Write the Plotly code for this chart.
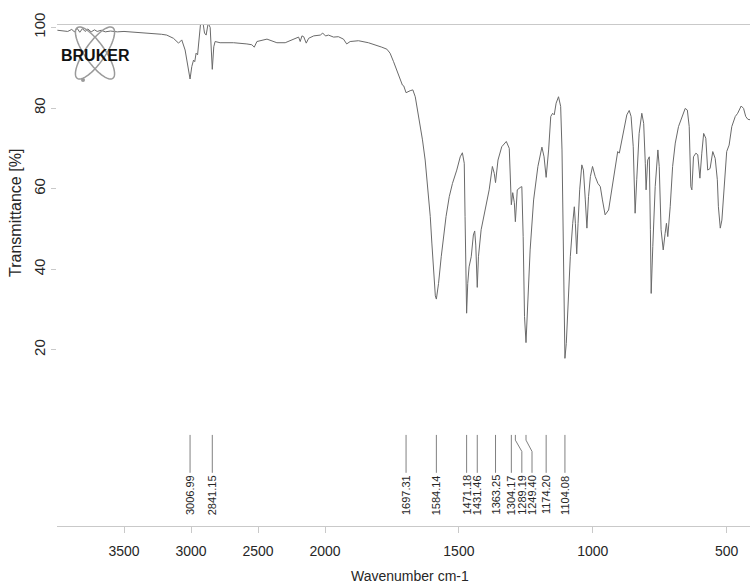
import numpy as np
import plotly.graph_objects as go

# ---- FT-IR spectrum (wavenumber in cm-1, transmittance in %) ----
wavenumber = [
    3997, 3960, 3920, 3890, 3870, 3850, 3830, 3810, 3790, 3770, 3745, 3720, 3700,
    3670, 3640, 3600, 3550, 3500, 3420, 3350, 3280, 3220, 3181, 3131, 3093, 3069,
    3044, 3024, 3006.99, 2994, 2981, 2972, 2962, 2951, 2939, 2927, 2912, 2899, 2887,
    2872, 2857, 2847, 2841.15, 2830, 2820, 2783, 2682, 2583, 2546, 2528, 2508, 2433,
    2359, 2297, 2234, 2197, 2185, 2172, 2159, 2140, 2122, 2084, 2035, 2017, 1997,
    1987, 1968, 1950, 1931, 1919, 1906, 1875, 1838, 1813, 1788, 1769, 1757, 1744,
    1732, 1719, 1711, 1706, 1697.31, 1682, 1672, 1663, 1654, 1645, 1636, 1626, 1616,
    1607, 1601, 1594, 1588, 1584.14, 1576, 1566, 1558, 1548, 1536, 1524, 1508, 1495,
    1487, 1480, 1477, 1471.18, 1467, 1462, 1454, 1446, 1441, 1437, 1431.46, 1427,
    1417, 1402, 1387, 1375, 1368, 1363.25, 1354, 1340, 1323, 1312, 1307, 1304.17,
    1299, 1293, 1289.19, 1282, 1271, 1265, 1260, 1255, 1249.40, 1245, 1234, 1221,
    1205, 1190, 1182, 1174.20, 1165, 1157, 1150, 1144, 1137, 1128, 1120, 1115, 1111,
    1104.08, 1099, 1093, 1084, 1075, 1069, 1065, 1060, 1055, 1049, 1041, 1035, 1028,
    1022, 1016, 1009, 1001, 991, 981, 972, 964, 954, 941, 929, 916, 907, 901, 885,
    873, 864, 857, 849, 842, 836, 827, 817, 810, 804, 801, 795, 789, 785, 782, 776,
    767, 757, 752, 745, 737, 730, 725, 720, 711, 702, 692, 680, 665, 655, 647, 640,
    634, 630, 624, 615, 608, 600, 593, 586, 578, 571, 562, 552, 543, 535, 531, 524,
    518, 509, 500, 491, 481, 468, 459, 446, 437, 429, 421, 405,
]
transmittance = [
    99.3, 99.2, 99.0, 99.5, 98.9, 99.8, 98.8, 99.7, 99.0, 99.6, 98.9, 99.4, 99.0,
    99.3, 98.9, 99.1, 98.9, 99.0, 98.8, 98.7, 98.6, 98.3, 98.1, 97.3, 96.1, 96.9,
    94.4, 90.3, 87.2, 90.3, 91.9, 91.5, 93.6, 93.2, 96.9, 101.5, 101.5, 98.6, 98.1,
    101.0, 100.0, 94.4, 89.6, 95.2, 96.5, 96.2, 96.2, 95.9, 95.7, 95.1, 96.5, 97.1,
    96.2, 96.2, 97.1, 97.6, 96.5, 97.9, 97.7, 96.1, 97.3, 97.9, 98.1, 98.6, 97.9,
    98.1, 97.6, 97.7, 97.1, 95.9, 96.5, 96.7, 96.2, 95.7, 95.1, 94.6, 93.6, 91.5,
    89.2, 87.0, 85.7, 85.5, 83.8, 84.3, 84.5, 82.8, 79.5, 76.2, 72.1, 67.1, 59.7,
    53.1, 46.5, 38.2, 33.4, 32.6, 36.5, 43.1, 48.1, 53.1, 58.0, 61.3, 64.6, 67.9,
    68.9, 66.3, 53.1, 29.1, 36.5, 40.6, 43.1, 48.5, 49.5, 46.0, 35.5, 43.1,
    49.8, 54.7, 59.7, 65.5, 63.8, 61.5, 67.1, 70.4, 71.7, 70.0, 63.0, 56.0,
    59.0, 56.5, 51.8, 59.7, 60.3, 60.5, 48.1, 28.3, 21.8, 29.1, 44.8, 57.2,
    65.5, 70.3, 67.9, 62.8, 69.6, 77.9, 78.7, 78.3, 81.2, 82.8, 80.4, 69.6, 44.8,
    17.9, 21.6, 31.6, 43.1, 51.4, 55.5, 51.4, 43.8, 51.4, 59.7, 65.9, 64.6, 57.2,
    50.2, 58.0, 63.0, 65.5, 63.0, 61.3, 60.5, 57.2, 53.5, 54.7, 59.7, 65.5, 69.2, 68.8, 74.6,
    78.3, 79.4, 77.9, 70.4, 53.9, 62.2, 73.7, 78.7, 76.2, 66.3, 59.7, 67.1, 67.9, 49.8, 34.0, 45.6,
    60.5, 69.6, 65.5, 49.8, 44.8, 48.9, 51.4, 48.1, 55.5, 65.5, 71.3, 75.4, 78.3, 79.9, 79.5, 75.4,
    60.5, 59.7, 67.9, 68.8, 68.4, 62.6, 68.8, 73.7, 72.5, 64.6, 65.0, 69.2, 67.5, 62.2, 55.5, 50.2,
    52.2, 60.5, 69.2, 70.8, 75.4, 77.9, 78.7, 80.5, 79.9, 77.9, 77.2, 77.0,
]

# picked peaks and where their labels sit (crowded labels are pushed aside)
peak_wn = [3006.99, 2841.15, 1697.31, 1584.14, 1471.18, 1431.46, 1363.25,
           1304.17, 1289.19, 1249.40, 1174.20, 1104.08]
label_wn = [3006.99, 2841.15, 1697.31, 1584.14, 1471.18, 1431.46, 1363.25,
            1304.17, 1265.0, 1227.0, 1174.20, 1104.08]

y_ticks = [20, 40, 60, 80, 100]
x_ticks_high = [3500, 3000, 2500, 2000]
x_ticks_low = [1500, 1000, 500]

# ---- page geometry ----
W, H = 750, 586
ML, MR, MT, MB = 57, 0, 25, 60
PW, PH = W - ML - MR, H - MT - MB
split = (325 - ML) / PW   # 4000-2000 on a compressed scale, 2000-400 expanded

def px(x):
    return (x - ML) / PW

def py(y):
    return (H - MB - y) / PH

FONT = "Liberation Sans, Arial, sans-serif"
INK = "#262626"
AXIS = "#c9c9c9"
LINE = "#6a6a6a"

fig = go.Figure()

# spectrum drawn once in each half of the broken wavenumber axis
for xa, ya in (("x", "y"), ("x2", "y2")):
    fig.add_trace(go.Scatter(
        x=wavenumber, y=transmittance, mode="lines",
        line=dict(color=LINE, width=1), xaxis=xa, yaxis=ya,
        hoverinfo="skip", showlegend=False,
    ))

# peak marker lines (kinked where the label had to move)
line_top, kink_a, kink_b, line_bot = -1.1, -2.4, -5.2, -10.5
for pw, lw in zip(peak_wn, label_wn):
    xa, ya = ("x", "y") if pw >= 2000 else ("x2", "y2")
    fig.add_trace(go.Scatter(
        x=[pw, pw, lw, lw], y=[line_top, kink_a, kink_b, line_bot],
        mode="lines", line=dict(color="#808080", width=1),
        xaxis=xa, yaxis=ya, hoverinfo="skip", showlegend=False,
    ))
    fig.add_annotation(
        x=lw, y=-16.0, xref=xa, yref=ya, text=f"{pw:.2f}",
        textangle=-90, showarrow=False, xanchor="center", yanchor="middle",
        font=dict(family=FONT, size=11, color=INK),
    )

axis_common = dict(
    showline=True, mirror=True, linecolor=AXIS, linewidth=1,
    ticks="outside", ticklen=6, tickcolor=AXIS,
    showgrid=False, zeroline=False, automargin=False,
    tickfont=dict(family=FONT, size=14, color=INK),
    ticklabelstandoff=6,
)
fig.update_layout(
    template="none",
    autosize=False,
    width=W, height=H,
    margin=dict(l=ML, r=MR, t=MT, b=MB, pad=0, autoexpand=False),
    paper_bgcolor="white", plot_bgcolor="white",
    xaxis=dict(domain=[0, split], range=[4000, 2000], tickvals=x_ticks_high,
               anchor="y", **axis_common),
    xaxis2=dict(domain=[split, 1], range=[2000, 413], tickvals=x_ticks_low,
                anchor="y2", **axis_common),
    yaxis=dict(range=[-23.7, 100.6], tickvals=y_ticks, tickangle=-90,
               ticks="outside", ticklen=5, tickcolor=AXIS, showline=False,
               showgrid=False, zeroline=False, anchor="x", automargin=False,
               tickfont=dict(family=FONT, size=15, color=INK),
               ticklabelstandoff=0),
    yaxis2=dict(matches="y", visible=False, anchor="x2", automargin=False),
    showlegend=False,
)

# axis titles
fig.add_annotation(x=px(410), y=py(576), xref="paper", yref="paper",
                   xanchor="center", yanchor="middle",
                   text="Wavenumber cm-1", showarrow=False,
                   font=dict(family=FONT, size=14, color=INK))
fig.add_annotation(x=px(15), y=py(213), xref="paper", yref="paper",
                   xanchor="center", yanchor="middle",
                   text="Transmittance [%]", textangle=-90, showarrow=False,
                   font=dict(family=FONT, size=16, color=INK))

# instrument logo: two crossed orbits with the maker's name
def ellipse_path(cx, cy, a, b, tilt_deg, n=60):
    t = np.linspace(0, 2 * np.pi, n)
    th = np.radians(tilt_deg)
    ex = cx + a * np.cos(t) * np.sin(th) + b * np.sin(t) * np.cos(th)
    ey = cy - a * np.cos(t) * np.cos(th) + b * np.sin(t) * np.sin(th)
    pts = [f"{px(x):.5f},{py(y):.5f}" for x, y in zip(ex, ey)]
    return "M" + " L".join(pts) + " Z"

for tilt in (35, -35):
    fig.add_shape(type="path", path=ellipse_path(95, 53, 31, 10, tilt),
                  xref="paper", yref="paper",
                  line=dict(color="#9a9a9a", width=1.5))
fig.add_shape(type="circle", xref="paper", yref="paper",
              x0=px(81), x1=px(85), y0=py(82), y1=py(78),
              fillcolor="#9a9a9a", line=dict(color="#9a9a9a", width=0))
fig.add_annotation(x=px(95), y=py(55), xref="paper", yref="paper",
                   xanchor="center", yanchor="middle",
                   text="<b>BRUKER</b>", showarrow=False,
                   font=dict(family=FONT, size=16, color="#111111"))

fig.write_html("out.html", config={"responsive": False})
